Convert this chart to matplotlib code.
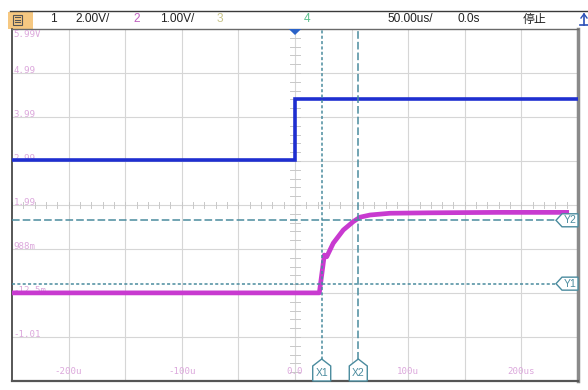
import matplotlib
matplotlib.use('Agg')
import matplotlib.pyplot as plt
from matplotlib.patches import Polygon, Rectangle

# Channel 1 (blue, 2.00V/div) - step at trigger
t_ch1 = [-250, 0, 0, 250]          # us
v_ch1 = [0.0, 0.0, 2.78, 2.78]     # V
ch1_zero = 3.01                    # ch1 ground position, in ch2 volts

# Channel 2 (magenta, 1.00V/div) - RC-like rise
t_ch2 = [-250, -100, 0, 21.5, 25.9, 28.0, 33.8, 42.7, 51.5, 57.4, 66.3, 83.9, 119, 180, 240]
v_ch2 = [-0.01, -0.01, -0.01, -0.01, 0.85, 0.81, 1.12, 1.42, 1.61, 1.71, 1.76, 1.80, 1.81, 1.82, 1.82]

# Cursors
x_cursors = [23.6, 55.9]     # X1, X2 (us)
y_cursors = [0.20, 1.64]     # Y1, Y2 (V)

# Screen scale
t_div = 50.0
v_top = 5.9875
v_div = 1.0
volt_labels = ['5.99V', '4.99', '3.99', '2.99', '1.99', '988m', '-12.5m', '-1.01']
time_ticks = [-200, -100, 0, 100, 200]
time_labels = ['-200u', '-100u', '0.0', '100u', '200us']

W, H = 588, 390
fig = plt.figure(figsize=(W / 100, H / 100), dpi=100)
fig.patch.set_facecolor('white')

ax = fig.add_axes([12 / W, (H - 381) / H, 566 / W, 352 / H])
ax.set_xlim(-250, 250)
ax.set_ylim(v_top - 8 * v_div, v_top)
ax.set_xticks([])
ax.set_yticks([])
ax.spines['left'].set_color('#3a3a3a')
ax.spines['left'].set_linewidth(1.2)
ax.spines['bottom'].set_color('#555555')
ax.spines['bottom'].set_linewidth(1.6)
ax.spines['right'].set_color('#8a8a8a')
ax.spines['right'].set_linewidth(2.5)
ax.spines['top'].set_color('#6a6a6a')
ax.spines['top'].set_linewidth(1.0)

grid_c = '#d6d6d6'
for i in range(1, 10):
    ax.axvline(-250 + i * t_div, color=grid_c, lw=0.8, zorder=1)
for i in range(1, 8):
    ax.axhline(v_top - i * v_div, color=grid_c, lw=0.8, zorder=1)

# ruler ticks on the centre lines
xt = 4.0
yt = 0.07
for i in range(-25, 26):
    t = i * 10.0
    ax.plot([t, t], [v_top - 4 - yt, v_top - 4 + yt], color='#c8c8c8', lw=0.7, zorder=1)
for i in range(1, 40):
    v = v_top - i * 0.2
    ax.plot([-xt, xt], [v, v], color='#c8c8c8', lw=0.7, zorder=1)

# traces
ax.plot(t_ch1, [ch1_zero + v / 2.0 for v in v_ch1], color='#1f2fd0', lw=2.6,
        solid_joinstyle='miter', zorder=4)
ax.plot(t_ch2, v_ch2, color='#c83ad0', lw=3.4, zorder=4)

# channel-2 scale labels
lab_c = '#dca8dc'
for i, s in enumerate(volt_labels):
    ax.text(-248.5, v_top - i * v_div - (0.03 if i == 0 else 0.05), s,
            ha='left', va='top' if i == 0 else 'bottom',
            family='DejaVu Sans Mono', fontsize=6.6, color=lab_c, zorder=3)
for t, s in zip(time_ticks, time_labels):
    ax.text(t, v_top - 8 * v_div + 0.12, s, ha='center', va='bottom',
            family='DejaVu Sans Mono', fontsize=6.6, color=lab_c, zorder=3)

# cursor lines
cur_c = '#4a8b9e'
ax.axvline(x_cursors[0], color=cur_c, lw=1.1, dashes=(2.0, 1.5), zorder=5)
ax.axvline(x_cursors[1], color=cur_c, lw=1.1, dashes=(5.0, 2.0), zorder=5)
ax.axhline(y_cursors[0], color=cur_c, lw=1.1, dashes=(2.0, 1.5), zorder=5)
ax.axhline(y_cursors[1], color=cur_c, lw=1.1, dashes=(5.0, 2.0), zorder=5)

# cursor tags
px_t = 500 / 566.0       # us per pixel
px_v = 1.0 / 44.0        # V per pixel
px_f = 1.0 / 352.0       # axes fraction per pixel
xtr = ax.get_xaxis_transform()
for t, name in zip(x_cursors, ['X1', 'X2']):
    hw = 9 * px_t
    pts = [(t - hw, 0), (t + hw, 0), (t + hw, 15 * px_f), (t, 22 * px_f), (t - hw, 15 * px_f)]
    ax.add_patch(Polygon(pts, closed=True, transform=xtr, facecolor='white',
                         edgecolor=cur_c, lw=1.0, zorder=6, clip_on=False))
    ax.text(t, 7.5 * px_f, name, transform=xtr, ha='center', va='center',
            fontsize=7.5, color=cur_c, family='Liberation Sans', zorder=7)
ytr = ax.get_yaxis_transform()
for v, name in zip(y_cursors, ['Y1', 'Y2']):
    hh = 6.5 * px_v
    xf = 1.0 / 566.0
    pts = [(1.0, v - hh), (1.0, v + hh), (1.0 - 16 * xf, v + hh), (1.0 - 22 * xf, v), (1.0 - 16 * xf, v - hh)]
    ax.add_patch(Polygon(pts, closed=True, transform=ytr, facecolor='white',
                         edgecolor=cur_c, lw=1.0, zorder=6, clip_on=False))
    ax.text(1.0 - 8 * xf, v, name, transform=ytr, ha='center', va='center',
            fontsize=7.5, color=cur_c, family='Liberation Sans', zorder=7)

# trigger position marker
ax.add_patch(Polygon([(-5.5, v_top), (5.5, v_top), (0, v_top - 6 * px_v)], closed=True,
                     facecolor='#2a62c8', edgecolor='none', zorder=8, clip_on=False))

# status bar on top, in pixel coordinates
top = fig.add_axes([0, 0, 1, 1], zorder=-1)
top.set_xlim(0, W)
top.set_ylim(H, 0)
top.axis('off')
top.plot([10, W], [11, 11], color='#3a3a3a', lw=1.0)
top.add_patch(Rectangle((8, 11.5), 25, 17, facecolor='#f6c881', edgecolor='none'))
top.add_patch(Rectangle((12.5, 14.5), 9, 10, facecolor='none', edgecolor='#555555', lw=0.8))
for yy in [17, 19.5, 22]:
    top.plot([14.5, 19.5], [yy, yy], color='#555555', lw=0.8)

bar = [(50, '1', '#222222'), (75, '2.00V/', '#222222'), (133, '2', '#c060c0'),
       (160, '1.00V/', '#222222'), (217, '3', '#c8c48a'), (304, '4', '#5cc08e'),
       (387, '50.00us/', '#222222'), (457, '0.0s', '#222222')]
for x, s, c in bar:
    top.text(x, 19.5, s, ha='left', va='center', fontsize=8.6, color=c,
             family='Liberation Sans')
top.text(523, 19.5, '停止', ha='left', va='center', fontsize=8.6, color='#222222',
         family=['Noto Sans CJK SC', 'DejaVu Sans'])
# trigger edge icon, partly off screen
top.plot([580, 588], [25, 25], color='#2a4fb8', lw=1.2)
top.plot([584, 584], [14, 25], color='#2a4fb8', lw=1.2)
top.plot([581, 584, 587], [18, 14, 18], color='#2a4fb8', lw=1.0)

fig.savefig('out.png', dpi=100, facecolor='white')
